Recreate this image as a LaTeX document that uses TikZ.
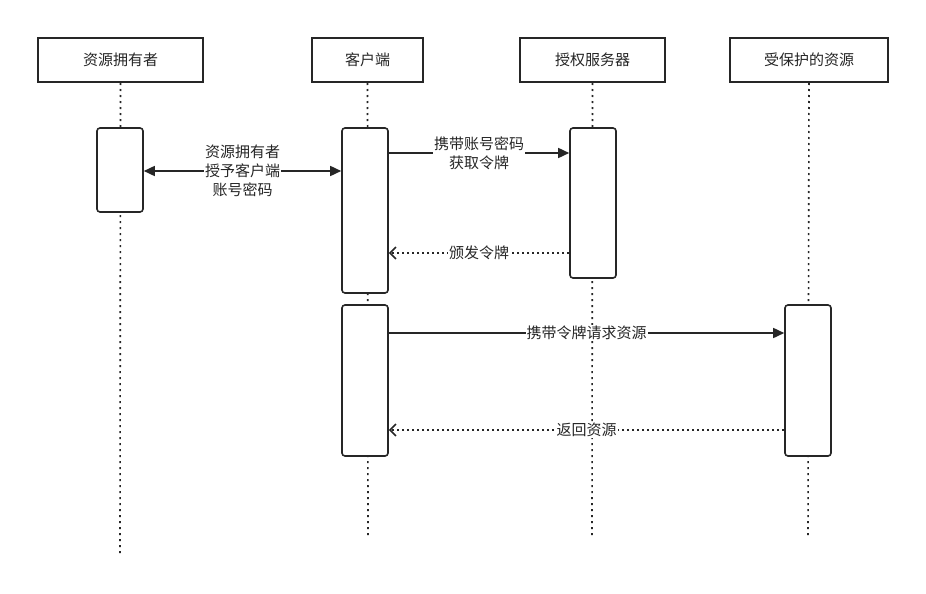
\documentclass[tikz,border=0pt]{standalone}
\usepackage{fontspec}
\newfontfamily\cjk{Noto Sans CJK SC}
\usetikzlibrary{arrows.meta}
\begin{document}
\begin{tikzpicture}[x=1pt,y=-1pt,
  every node/.style={font=\cjk\fontsize{15}{19}\selectfont, text=black!85},
  head/.style={draw=black!85,line width=2pt,fill=white,inner sep=0pt,minimum height=44pt},
  act/.style={draw=black!85,line width=1.6pt,fill=white,rounded corners=3pt,minimum width=46pt,inner sep=0pt},
  life/.style={black!85,line width=1.6pt,dash pattern=on 2pt off 4pt},
  msg/.style={black!85,line width=1.6pt,-{Triangle[length=11pt,width=10pt]}},
  ret/.style={black!85,line width=1.6pt,dash pattern=on 2pt off 3pt,-{Straight Barb[length=6pt,width=12pt]}},
  lab/.style={fill=white,inner sep=1pt,align=center}]
\fill[white!98!black] (0,0) rectangle (926,594);
\fill[white] (0,0) rectangle (926,594);
% lifelines
\coordinate (e1) at (120,555); \coordinate (e2) at (368,535);
\coordinate (e3) at (592,535); \coordinate (e4) at (808,535);
\node[head,minimum width=165pt] (h1) at (120.5,60) {资源拥有者};
\node[head,minimum width=111pt] (h2) at (367.5,60) {客户端};
\node[head,minimum width=145pt] (h3) at (592.5,60) {授权服务器};
\node[head,minimum width=158pt] (h4) at (809,60) {受保护的资源};
\draw[life] (h1.south) -- (e1);
\draw[life] (h2.south) -- (e2);
\draw[life] (h3.south) -- (e3);
\draw[life] (h4.south) -- (e4);
% activations
\node[act,minimum height=84pt] (a1) at (120,170) {};
\node[act,minimum height=165pt] (c1) at (365,210.5) {};
\node[act,minimum height=150pt] (s1) at (593,203) {};
\node[act,minimum height=151pt] (c2) at (365,380.5) {};
\node[act,minimum height=151pt] (r1) at (808,380.5) {};
% messages
\draw[black!85,line width=1.6pt,{Triangle[length=11pt,width=10pt]}-{Triangle[length=11pt,width=10pt]}] (a1.east|-0,171) -- (c1.west|-0,171)
  node[lab,midway] {资源拥有者\\授予客户端\\账号密码};
\draw[msg] (c1.east|-0,153) -- (s1.west|-0,153) node[lab,midway] {携带账号密码\\获取令牌};
\draw[ret] (s1.west|-0,253) -- (c1.east|-0,253) node[lab,midway] {颁发令牌};
\draw[msg] (c2.east|-0,333) -- (r1.west|-0,333) node[lab,midway] {携带令牌请求资源};
\draw[ret] (r1.west|-0,430) -- (c2.east|-0,430) node[lab,midway] {返回资源};
\end{tikzpicture}
\end{document}
